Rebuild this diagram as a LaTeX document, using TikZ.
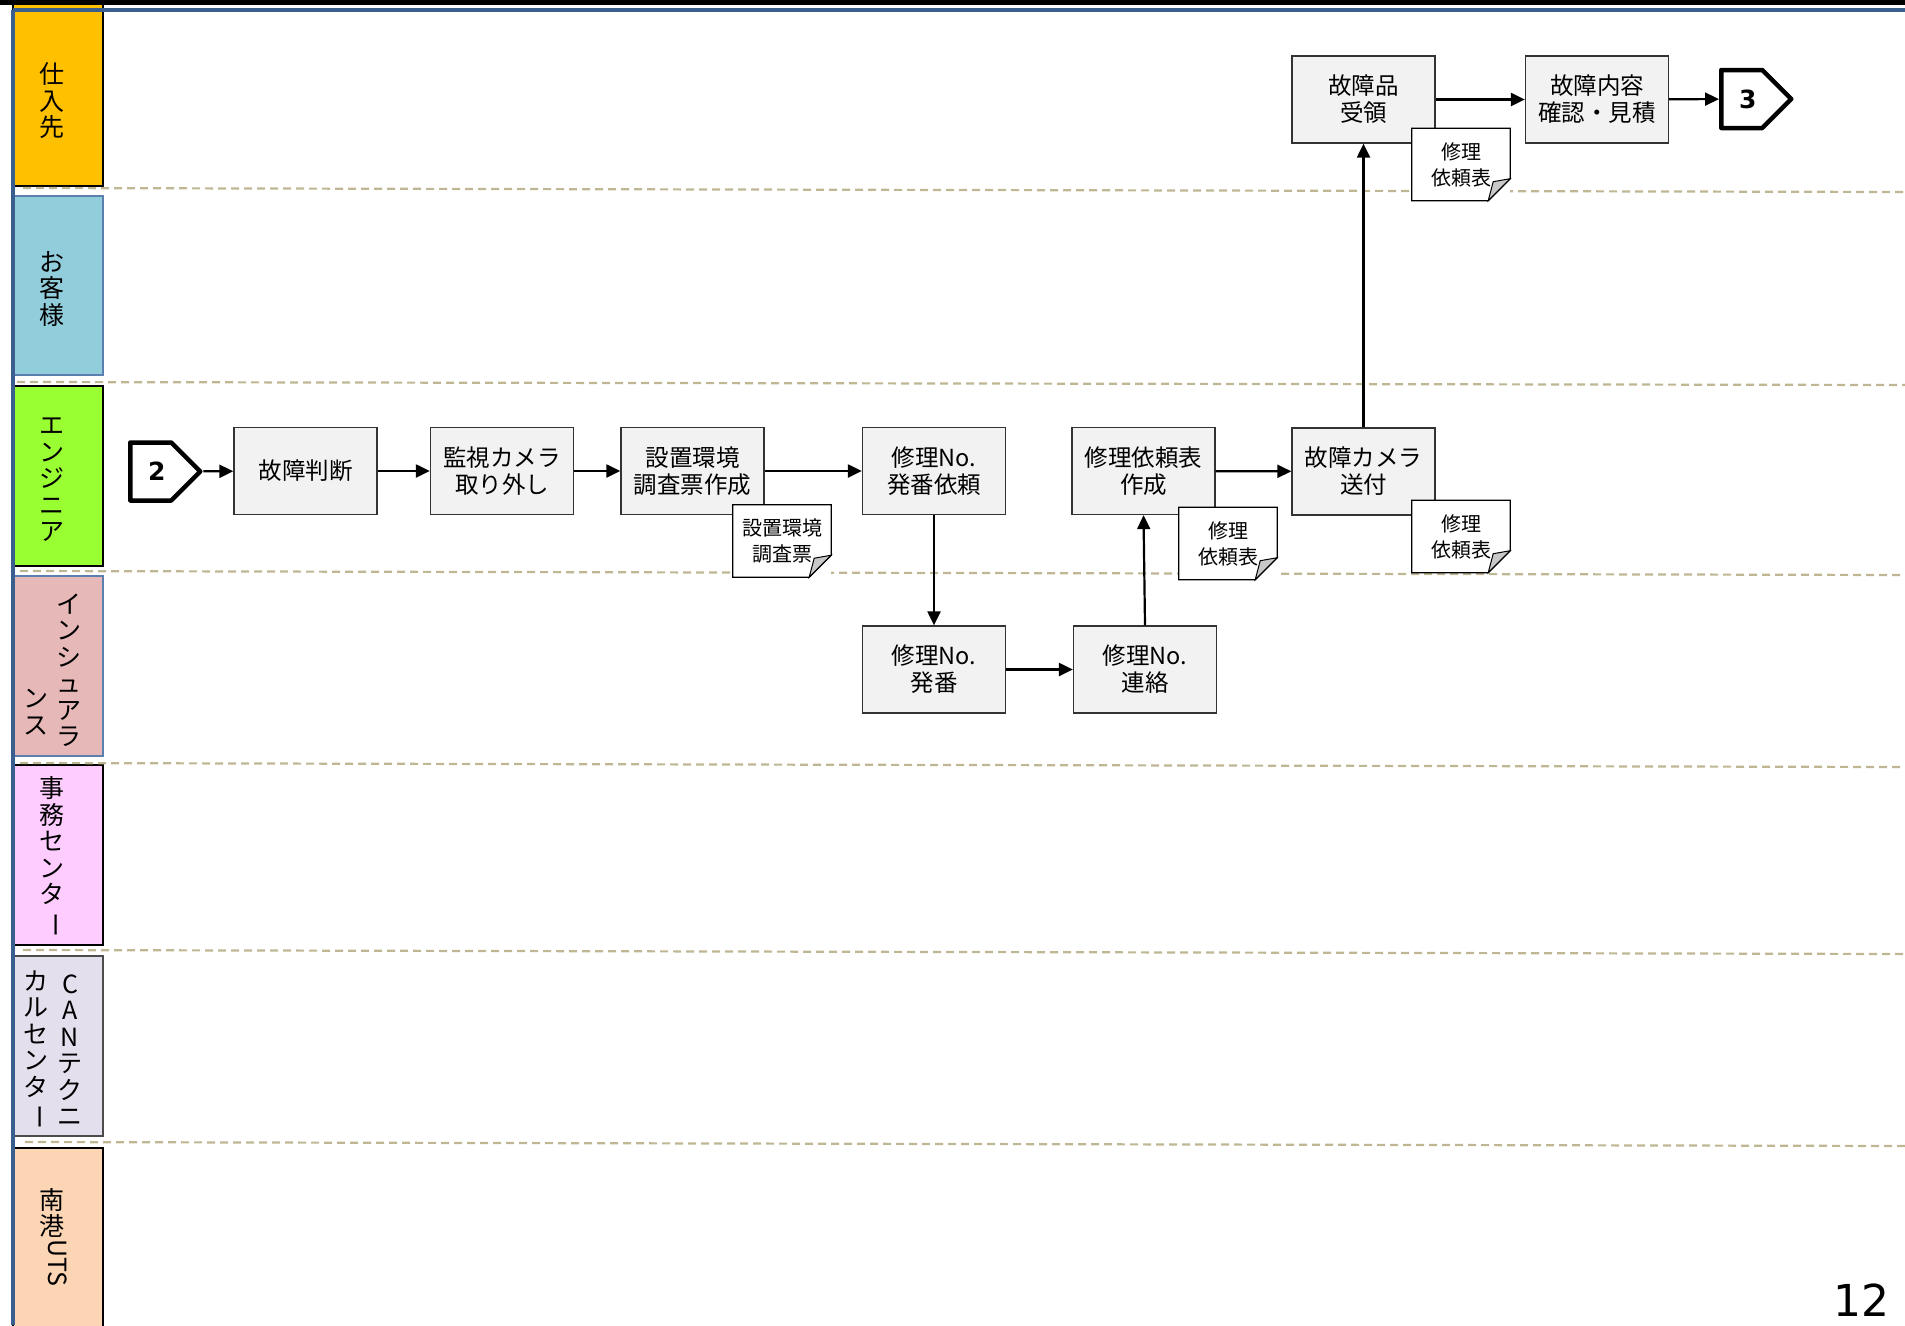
\documentclass[tikz,border=0pt]{standalone}
\usepackage{graphicx}
\usepackage{fontspec}
\setmainfont{Noto Sans CJK JP}
\newfontfamily\numfont{DejaVu Sans}
\usetikzlibrary{arrows.meta,shapes.symbols,calc}

\definecolor{laneorange}{HTML}{FFC000}
\definecolor{laneblue}{HTML}{92CDDC}
\definecolor{lanegreen}{HTML}{99FF33}
\definecolor{lanerose}{HTML}{E6B9B8}
\definecolor{lanepink}{HTML}{FFCCFF}
\definecolor{lanelilac}{HTML}{E4DFEC}
\definecolor{lanepeach}{HTML}{FCD5B4}
\definecolor{frameblue}{HTML}{3A5F8E}
\definecolor{laneedge}{HTML}{5B7FAE}
\definecolor{sepline}{HTML}{BFB793}
\definecolor{procfill}{HTML}{F2F2F2}
\definecolor{foldgray}{HTML}{C8C8C8}

% long vowel mark for vertical text
\newcommand{\chobar}{\rotatebox[origin=c]{-90}{ー}}
% outline of a sheet with a turned corner
\newcommand{\docedge}[1]{%
\draw [black,line width=1.2pt] (#1.north west) -- (#1.north east) -- ($(#1.south east)+(0,-22)$) -- ($(#1.south east)+(-22,0)$) -- (#1.south west) -- cycle;
\filldraw [draw=black,fill=foldgray,line width=1pt] ($(#1.south east)+(0,-22)$) -- ($(#1.south east)+(-17,-19)$) -- ($(#1.south east)+(-22,0)$) -- cycle;}

\begin{document}
\begin{tikzpicture}[x=1pt,y=-1pt]
\tikzstyle{every node}+=[inner sep=0pt]
\tikzstyle{lane}=[line width=1.2pt]
\tikzstyle{lanetext}=[align=center,font=\fontsize{25}{26.5}\selectfont]
\tikzstyle{sep}=[sepline,line width=2.2pt,dash pattern=on 8pt off 5pt]
\tikzstyle{proc}=[draw=black!80,fill=procfill,line width=1.3pt,minimum width=143pt,minimum height=87pt,align=center,font=\fontsize{23.5}{27}\selectfont]
\tikzstyle{docnote}=[fill=white,minimum width=98pt,minimum height=72pt,align=center,font=\fontsize{20}{26}\selectfont]
\tikzstyle{link}=[draw,signal,signal to=east,line width=4.5pt,line join=round,fill=white,minimum width=70pt,minimum height=58pt,font=\numfont\bfseries\fontsize{25}{25}\selectfont]
\tikzstyle{flow}=[line width=2.2pt,-{Triangle[length=14pt,width=13pt]}]
\useasboundingbox (0,0) rectangle (1905,1325);

% lane heads
\draw [lane,fill=laneorange] (13,4) rectangle (103,186);
\draw [lane,draw=laneedge,fill=laneblue] (13,196) rectangle (103,375);
\draw [lane,fill=lanegreen] (13,386) rectangle (103,566);
\draw [lane,draw=laneedge,fill=lanerose] (13,576) rectangle (103,756);
\draw [lane,fill=lanepink] (13,765) rectangle (103,945);
\draw [lane,draw=black!70,fill=lanelilac] (13,956) rectangle (103,1136);
\draw [lane,fill=lanepeach] (13,1148) rectangle (103,1330);
\node [lanetext] (supplier) at (52,101) {仕\\入\\先};
\node [lanetext] (customer) at (52,289) {お\\客\\様};
\node [lanetext] (engineer) at (52,480) {エ\\ン\\ジ\\ニ\\ア};
\node [lanetext] (insure) at (69,670) {イ\\ン\\シ\\ュ\\ア\\ラ};
\node [lanetext] (insure2) at (36,712) {ン\\ス};
\node [lanetext] (office) at (52,857) {事\\務\\セ\\ン\\タ\\\chobar};
\node [lanetext] (cantech) at (70,1050) {C\\A\\N\\テ\\ク\\ニ};
\node [lanetext] (cantech2) at (36,1050) {カ\\ル\\セ\\ン\\タ\\\chobar};
\node [lanetext] (nanko) at (52,1213) {南\\港};
\node [lanetext,rotate=-90] (nankouts) at (58,1263) {UTS};

% lane borders
\draw [sep] (23,188) -- (1905,192);
\draw [sep] (17,382) -- (1905,385);
\draw [sep] (20,571) -- (1905,575);
\draw [sep] (20,763) -- (1905,767);
\draw [sep] (23,950) -- (1905,954);
\draw [sep] (25,1142) -- (1905,1146);

% frame
\fill [black] (0,0) rectangle (1905,5);
\draw [frameblue,line width=3.5pt] (13,10) -- (1905,10);
\draw [frameblue,line width=3.5pt] (13,10) -- (13,1325);

% steps
\node [link,anchor=west] (start2) at (128,471.5) {\hspace*{12pt}2};
\node [proc] (judge) at (305.5,471) {故障判断};
\node [proc] (remove) at (502,471) {監視カメラ\\取り外し};
\node [proc] (survey) at (692.5,471) {設置環境\\調査票作成};
\node [proc] (askno) at (934,471) {修理No.\\発番依頼};
\node [proc] (issueno) at (934,669.5) {修理No.\\発番};
\node [proc] (tellno) at (1145,669.5) {修理No.\\連絡};
\node [proc] (makeform) at (1143.5,471) {修理依頼表\\作成};
\node [proc] (ship) at (1363.5,471.5) {故障カメラ\\送付};
\node [proc] (receive) at (1363.5,99.5) {故障品\\受領};
\node [proc] (check) at (1597,99.5) {故障内容\\確認・見積};
\node [link,anchor=west] (end3) at (1719,99) {\hspace*{12pt}3};

% sheets
\node [docnote] (surveydoc) at (782,541) {設置環境\\調査票};
\docedge{surveydoc}
\node [docnote] (formdoc1) at (1228,543.5) {修理\\依頼表};
\docedge{formdoc1}
\node [docnote] (formdoc2) at (1461,536.5) {修理\\依頼表};
\docedge{formdoc2}
\node [docnote] (formdoc3) at (1461,164.5) {修理\\依頼表};
\docedge{formdoc3}

% flow
\draw [flow] (start2) -- (judge);
\draw [flow] (judge) -- (remove);
\draw [flow] (remove) -- (survey);
\draw [flow] (survey) -- (askno);
\draw [flow] (askno) -- (issueno);
\draw [flow] (issueno) -- (tellno);
\draw [flow] (tellno.north) -- (makeform.south);
\draw [flow] (makeform) -- (ship);
\draw [flow] (ship) -- (receive);
\draw [flow] (receive) -- (check);
\draw [flow] (check) -- (end3);

\node [font=\numfont\fontsize{44}{44}\selectfont,anchor=base east] (pageno) at (1890,1316) {12};
\end{tikzpicture}
\end{document}
